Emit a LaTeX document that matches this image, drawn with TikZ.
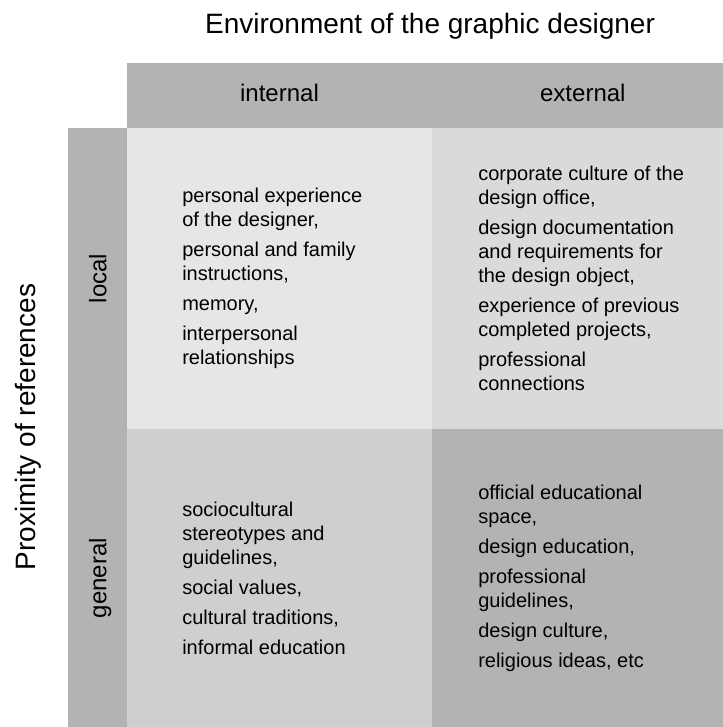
\documentclass[tikz,border=0pt]{standalone}
\usepackage{fontspec}
\setmainfont{Liberation Sans}
\usepackage{xcolor}
\usepackage{tikz}
\usetikzlibrary{positioning}
\definecolor{bandgray}{HTML}{B3B3B3}
\definecolor{cellil}{HTML}{E6E6E6}
\definecolor{cellel}{HTML}{DADADA}
\definecolor{cellig}{HTML}{D0CED0}
\definecolor{celleg}{HTML}{B3B3B3}
\tikzset{
  cell/.style={rectangle, draw=none, inner sep=0pt, outer sep=0pt},
  colint/.style={minimum width=228.75pt},
  colext/.style={minimum width=218.25pt},
  rowloc/.style={minimum height=225.75pt},
  rowgen/.style={minimum height=223.5pt},
  band/.style={cell, fill=bandgray},
  txt/.style={align=left, inner sep=0pt, font=\fontsize{15}{18}\selectfont},
  hdrlbl/.style={anchor=base, inner sep=0pt, font=\fontsize{18}{21}\selectfont},
  sidelbl/.style={hdrlbl, rotate=90},
  title/.style={anchor=base, inner sep=0pt, font=\fontsize{21}{25}\selectfont}
}

\begin{document}
\begin{tikzpicture}
  \useasboundingbox (-95.25pt,96pt) rectangle (447pt,-449.25pt);
  % the four fields
  \node[cell, colint, rowloc, fill=cellil, anchor=north west] (il) at (0,0) {};
  \node[cell, colext, rowloc, fill=cellel, right=0pt of il] (el) {};
  \node[cell, colint, rowgen, fill=cellig, below=0pt of il] (ig) {};
  \node[cell, colext, rowgen, fill=celleg, right=0pt of ig] (eg) {};
  % grey bands on top and on the left
  \node[band, colint, minimum height=48.75pt, above=0pt of il] (hi) {};
  \node[band, colext, minimum height=48.75pt, above=0pt of el] (he) {};
  \node[band, rowloc, minimum width=44.25pt, left=0pt of il] (sl) {};
  \node[band, rowgen, minimum width=44.25pt, left=0pt of ig] (sg) {};
  % band labels
  \node[hdrlbl] (hil) at ([yshift=-4.65pt]hi.center) {internal};
  \node[hdrlbl] (hel) at ([xshift=4pt,yshift=-4.65pt]he.center) {external};
  \node[sidelbl] (sll) at ([xshift=6.75pt]sl.center) {local};
  \node[sidelbl] (sgl) at ([xshift=6.75pt]sg.center) {general};
  % axis titles
  \node[title] (ttl) at (227.25pt,70.7pt) {Environment of the graphic designer};
  \node[title, rotate=90] (prx) at (-68.25pt,-224.25pt) {Proximity of references};
  % field contents
  \node[txt, right=41.25pt of il.west] (ilt) {personal experience\\of the designer,\\[4.5pt]
    personal and family\\instructions,\\[4.5pt]
    memory,\\[4.5pt]
    interpersonal\\relationships};
  \node[txt, right=34.5pt of el.west] (elt) {corporate culture of the\\design office,\\[4.5pt]
    design documentation\\and requirements for\\the design object,\\[4.5pt]
    experience of previous\\completed projects,\\[4.5pt]
    professional\\connections};
  \node[txt, right=41.25pt of ig.west] (igt) {sociocultural\\stereotypes and\\guidelines,\\[4.5pt]
    social values,\\[4.5pt]
    cultural traditions,\\[4.5pt]
    informal education};
  \node[txt, right=34.5pt of eg.west] (egt) {official educational\\space,\\[4.5pt]
    design education,\\[4.5pt]
    professional\\guidelines,\\[4.5pt]
    design culture,\\[4.5pt]
    religious ideas, etc};
\end{tikzpicture}
\end{document}
